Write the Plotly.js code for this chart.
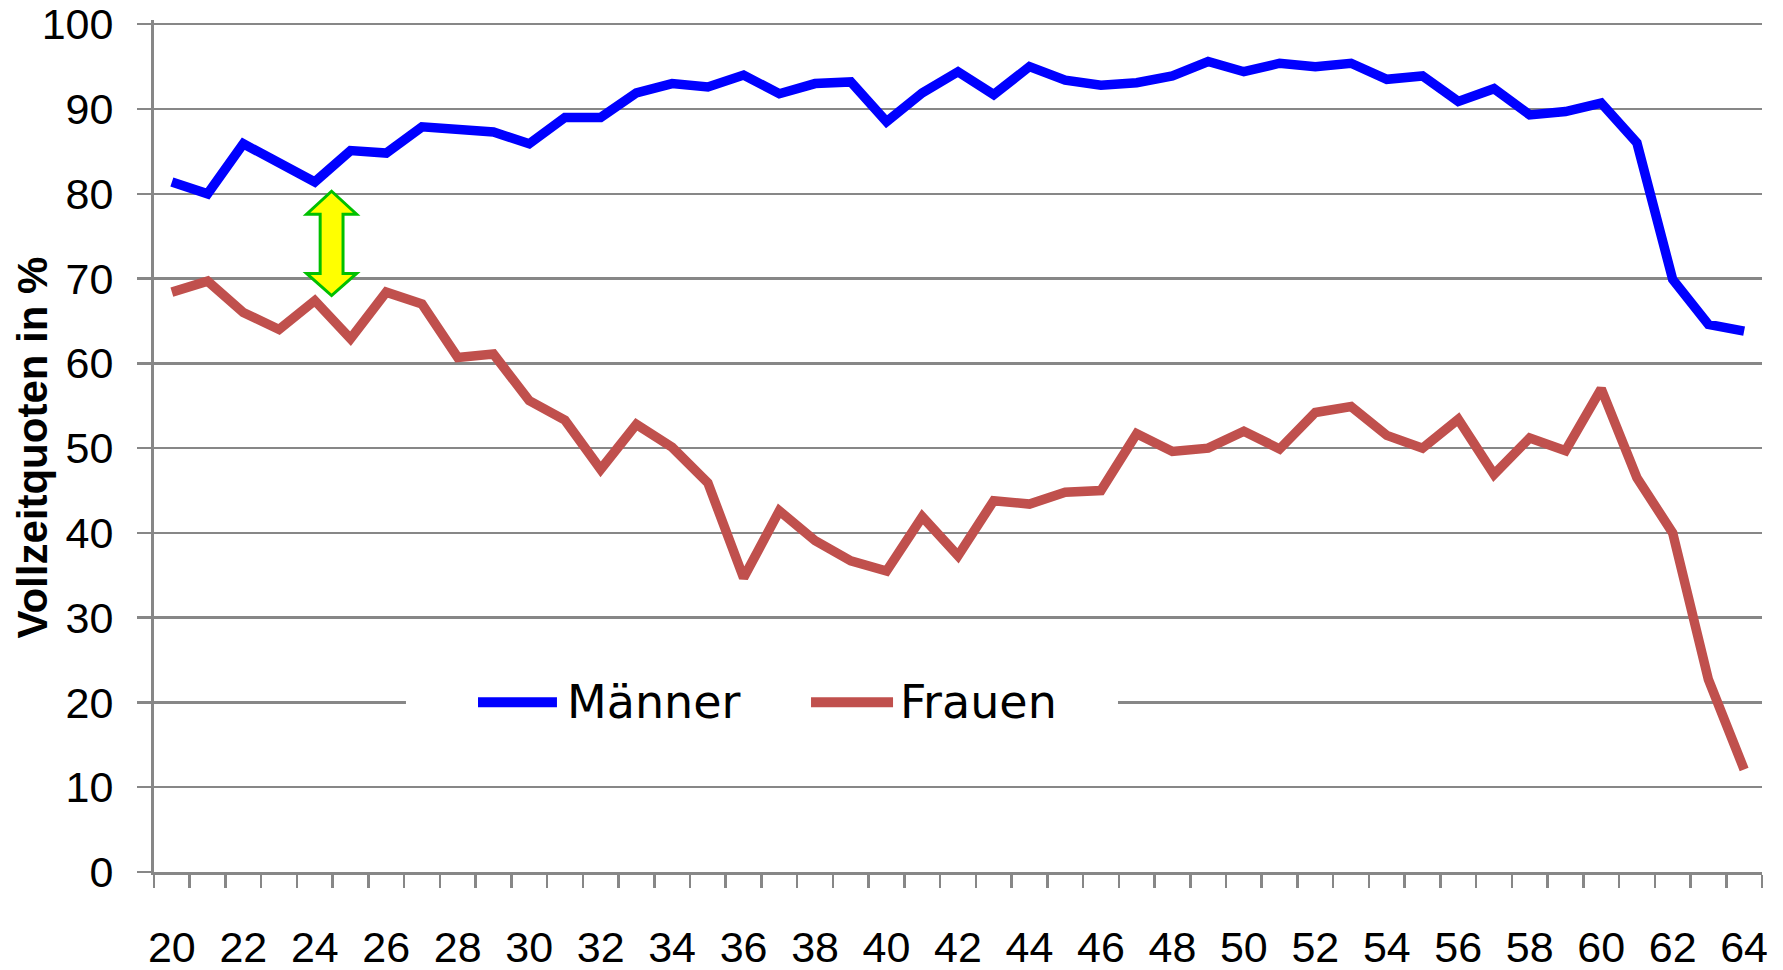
<!DOCTYPE html>
<html>
<head>
<meta charset="utf-8">
<script src="https://cdn.plot.ly/plotly-3.0.1.min.js"></script>
<style>
  html, body { margin: 0; padding: 0; background: #ffffff; }
  #chart { width: 1783px; height: 970px; }
</style>
</head>
<body>
<div id="chart"></div>
<script>
// ---- Data ----
const ages = [20, 21, 22, 23, 24, 25, 26, 27, 28, 29, 30, 31, 32, 33, 34, 35, 36, 37, 38, 39, 40, 41, 42,
              43, 44, 45, 46, 47, 48, 49, 50, 51, 52, 53, 54, 55, 56, 57, 58, 59, 60, 61, 62, 63, 64];
const maenner = [81.4, 80.0, 85.9, 83.7, 81.4, 85.1, 84.8, 87.9, 87.6, 87.3, 85.9, 89.0, 89.0, 91.9, 93.0,
                 92.6, 94.0, 91.8, 93.0, 93.2, 88.5, 91.9, 94.4, 91.7, 95.0, 93.4, 92.8, 93.1, 93.9, 95.6,
                 94.4, 95.4, 95.0, 95.4, 93.5, 93.9, 90.9, 92.4, 89.3, 89.7, 90.7, 86.0, 69.9, 64.6, 63.8];
const frauen = [68.4, 69.7, 66.0, 64.0, 67.4, 62.9, 68.4, 67.0, 60.7, 61.1, 55.6, 53.3, 47.5, 52.8, 50.1,
                45.9, 34.7, 42.6, 39.1, 36.7, 35.5, 41.9, 37.3, 43.8, 43.4, 44.8, 45.0, 51.7, 49.6, 50.0,
                52.0, 49.9, 54.2, 54.9, 51.5, 50.0, 53.4, 46.9, 51.2, 49.7, 57.0, 46.5, 40.0, 22.7, 12.1];
const seriesNames = ["Männer", "Frauen"];
const xTickVals = [20, 22, 24, 26, 28, 30, 32, 34, 36, 38, 40, 42, 44, 46, 48, 50, 52, 54, 56, 58, 60, 62, 64];
const xTickText = ["20", "22", "24", "26", "28", "30", "32", "34", "36", "38", "40", "42", "44", "46", "48",
                   "50", "52", "54", "56", "58", "60", "62", "64"];
const yTickVals = [0, 10, 20, 30, 40, 50, 60, 70, 80, 90, 100];
const yTickText = ["0", "10", "20", "30", "40", "50", "60", "70", "80", "90", "100"];
const yTitle = "Vollzeitquoten in %";

// ---- Styles ----
const colMaenner = "#0000ff";
const colFrauen = "#c0504d";
const gridCol = "#878787";
const tickFont = { family: "Liberation Sans, Arial, sans-serif", size: 43, color: "#000000" };

const traces = [
  { x: ages, y: maenner, name: seriesNames[0], type: "scatter", mode: "lines",
    line: { color: colMaenner, width: 9.5 }, showlegend: false, hoverinfo: "x+y" },
  { x: ages, y: frauen, name: seriesNames[1], type: "scatter", mode: "lines",
    line: { color: colFrauen, width: 9.5 }, showlegend: false, hoverinfo: "x+y" }
];

// double-headed arrow annotation (yellow with green outline)
const cx = 24.47;
const pts = [[cx, 80.3], [cx + 0.70, 77.6], [cx + 0.32, 77.6], [cx + 0.32, 70.6], [cx + 0.70, 70.6],
             [cx, 68.0], [cx - 0.70, 70.6], [cx - 0.32, 70.6], [cx - 0.32, 77.6], [cx - 0.70, 77.6]];
const arrowPath = pts.map((p, i) => (i === 0 ? "M" : "L") + p[0] + "," + p[1]).join(" ") + " Z";

// custom legend (white box breaking the 20-gridline, long line samples)
const legY = 0.1993;
const shapes = [
  { type: "rect", xref: "paper", yref: "paper", x0: 0.1567, x1: 0.5995, y0: 0.172, y1: 0.226,
    fillcolor: "#ffffff", line: { width: 0 }, layer: "above" },
  { type: "line", xref: "paper", yref: "paper", x0: 0.2015, x1: 0.2506, y0: legY, y1: legY,
    line: { color: colMaenner, width: 10 }, layer: "above" },
  { type: "line", xref: "paper", yref: "paper", x0: 0.4086, x1: 0.4596, y0: legY, y1: legY,
    line: { color: colFrauen, width: 10 }, layer: "above" },
  { type: "path", xref: "x", yref: "y", path: arrowPath,
    fillcolor: "#ffff00", line: { color: "#00c000", width: 3 }, layer: "above" }
];

const legFont = { family: "DejaVu Sans, sans-serif", size: 46, color: "#000000" };
const annotations = [
  { xref: "paper", yref: "paper", x: 0.2556, y: legY, xanchor: "left", yanchor: "middle",
    text: seriesNames[0], showarrow: false, font: legFont },
  { xref: "paper", yref: "paper", x: 0.4627, y: legY, xanchor: "left", yanchor: "middle",
    text: seriesNames[1], showarrow: false, font: legFont },
  // y-axis title
  { xref: "paper", yref: "paper", x: -0.0756, y: 0.4988, xanchor: "center", yanchor: "middle",
    textangle: -90, text: yTitle, showarrow: false,
    font: { family: "Liberation Sans, Arial, sans-serif", size: 42, color: "#000000", weight: "bold" } }
];

const layout = {
  width: 1783, height: 970,
  margin: { l: 154, r: 21, t: 20, b: 98, pad: 0 },
  paper_bgcolor: "#ffffff", plot_bgcolor: "#ffffff",
  showlegend: false,
  xaxis: {
    type: "linear", range: [19.5, 64.5], fixedrange: true,
    tickmode: "array", tickvals: xTickVals, ticktext: xTickText,
    ticks: "", showgrid: false, zeroline: false,
    showline: true, linecolor: gridCol, linewidth: 3,
    tickfont: tickFont, ticklabelstandoff: 35,
    minor: { tick0: 19.5, dtick: 1, ticks: "outside", ticklen: 13, tickwidth: 2.5,
             tickcolor: gridCol, showgrid: false }
  },
  yaxis: {
    range: [0, 100.5], fixedrange: true, tickmode: "array", tickvals: yTickVals, ticktext: yTickText,
    ticks: "outside", ticklen: 14, tickwidth: 2.5, tickcolor: gridCol,
    showgrid: true, gridcolor: gridCol, gridwidth: 2.5,
    zeroline: false, showline: true, linecolor: gridCol, linewidth: 3,
    tickfont: tickFont, ticklabelstandoff: 15,
    automargin: false
  },
  shapes: shapes,
  annotations: annotations
};

Plotly.newPlot("chart", traces, layout, { staticPlot: true, displayModeBar: false });
</script>
</body>
</html>
